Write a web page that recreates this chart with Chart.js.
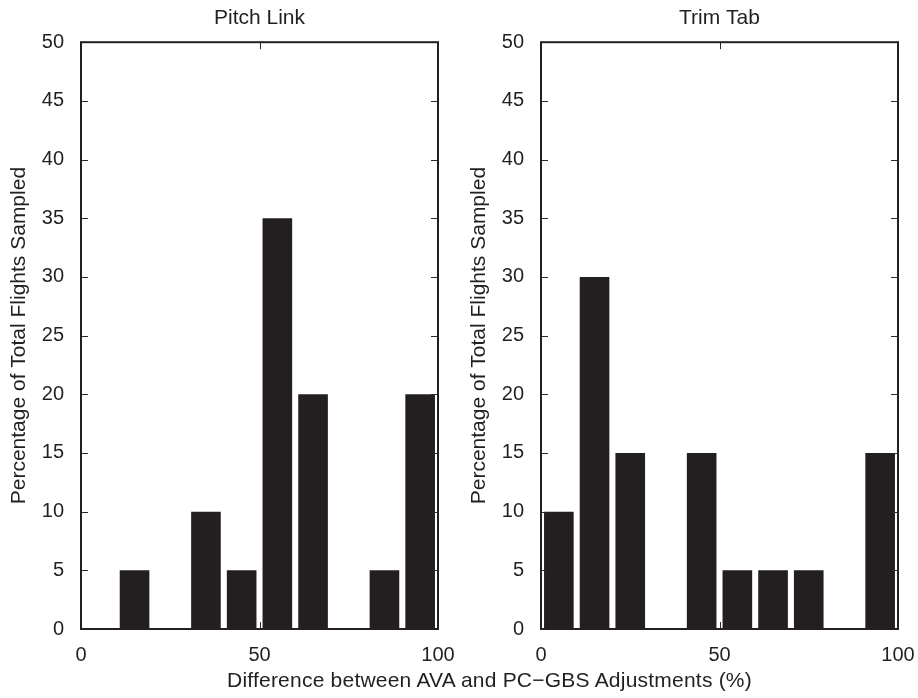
<!DOCTYPE html>
<html>
<head>
<meta charset="utf-8">
<script src="https://cdn.jsdelivr.net/npm/chart.js@4/dist/chart.umd.min.js"></script>
<style>
  html, body { margin: 0; padding: 0; background: #fff; overflow: hidden; }
  #wrap { position: relative; width: 918px; height: 698px; }
  canvas { position: absolute; top: 0; }
  #c1 { left: 0; }
  #c2 { left: 460px; }
  #xtitle {
    position: absolute; left: 81px; width: 817px; top: 669px;
    text-align: center; font: 21px/21px "Liberation Sans", Arial, sans-serif; color: #231f20;
    letter-spacing: 0.22px;
  }
</style>
</head>
<body>
<div id="wrap">
  <canvas id="c1" width="458" height="698"></canvas>
  <canvas id="c2" width="458" height="698"></canvas>
  <div id="xtitle">Difference between AVA and PC&#8722;GBS Adjustments (%)</div>
</div>
<script>
// bin centres (%) and share of flights (%)
const pitchBins = [15, 35, 45, 55, 65, 85, 95];
const pitchPct  = [5, 10, 5, 35, 20, 5, 20];
const trimBins  = [5, 15, 25, 45, 55, 65, 75, 95];
const trimPct   = [10, 30, 15, 15, 5, 5, 5, 15];
const xTicks = [0, 50, 100];
const yTicks = [0, 5, 10, 15, 20, 25, 30, 35, 40, 45, 50];

const FONT = '"Liberation Sans", Arial, sans-serif';
const INK = '#231f20';

// frame round the plot area with inward tick marks on all four sides
const boxPlugin = {
  id: 'box',
  afterDatasetsDraw(chart) {
    const { ctx, chartArea: a, scales: { x, y } } = chart;
    ctx.save();
    ctx.strokeStyle = '#2a2a2a';
    ctx.lineWidth = 1;
    ctx.beginPath();
    y.ticks.forEach(t => {
      const py = Math.round(y.getPixelForValue(t.value)) + 0.5;
      ctx.moveTo(a.left, py); ctx.lineTo(a.left + 7, py);
      ctx.moveTo(a.right, py); ctx.lineTo(a.right - 7, py);
    });
    x.ticks.forEach(t => {
      const px = Math.round(x.getPixelForValue(t.value)) + 0.5;
      ctx.moveTo(px, a.bottom); ctx.lineTo(px, a.bottom - 7);
      ctx.moveTo(px, a.top); ctx.lineTo(px, a.top + 7);
    });
    ctx.stroke();
    ctx.strokeStyle = INK;
    ctx.lineWidth = 2;
    ctx.strokeRect(a.left, a.top, a.right - a.left, a.bottom - a.top);
    ctx.restore();
  }
};

function makePanel(id, title, bins, pct) {
  return new Chart(document.getElementById(id), {
    type: 'bar',
    data: {
      datasets: [{
        data: bins.map((b, i) => ({ x: b, y: pct[i] })),
        backgroundColor: INK,
        borderWidth: 0,
        barPercentage: 0.83,
        categoryPercentage: 1
      }]
    },
    options: {
      responsive: false,
      animation: false,
      layout: { padding: { left: 0, right: 20, top: 0, bottom: 0 } },
      plugins: {
        legend: { display: false },
        tooltip: { enabled: false },
        title: {
          display: true, text: title, color: INK, fullSize: false,
          font: { family: FONT, size: 21, weight: 'normal' },
          padding: { top: 6, bottom: 11 }
        }
      },
      scales: {
        x: {
          type: 'linear', min: 0, max: 100, offset: false,
          grid: { display: false, drawTicks: false },
          border: { display: false },
          afterBuildTicks: s => { s.ticks = xTicks.map(v => ({ value: v })); },
          ticks: { color: INK, padding: 14, maxRotation: 0, font: { family: FONT, size: 20 } },
          afterFit: s => { s.height = 69; s.paddingLeft = 0; s.paddingRight = 0; }
        },
        y: {
          min: 0, max: 50,
          grid: { display: false, drawTicks: false },
          border: { display: false },
          afterBuildTicks: s => { s.ticks = yTicks.map(v => ({ value: v })); },
          ticks: { color: INK, padding: 17, font: { family: FONT, size: 20 } },
          title: {
            display: true, text: 'Percentage of Total Flights Sampled', color: INK,
            font: { family: FONT, size: 21, weight: 'normal' },
            padding: { top: 7, bottom: 0 }
          },
          afterFit: s => { s.width = 81; }
        }
      }
    },
    plugins: [boxPlugin]
  });
}

makePanel('c1', 'Pitch Link', pitchBins, pitchPct);
makePanel('c2', 'Trim Tab', trimBins, trimPct);
</script>
</body>
</html>
